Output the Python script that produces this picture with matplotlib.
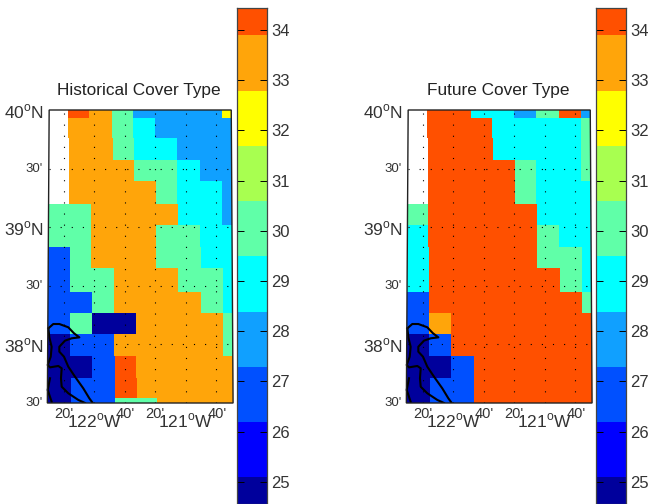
import numpy as np
import matplotlib
matplotlib.use('Agg')
import matplotlib.pyplot as plt
from matplotlib.colors import ListedColormap, BoundaryNorm
from matplotlib.patches import Polygon

plt.rcParams['font.family'] = ['Liberation Sans', 'DejaVu Sans']
plt.rcParams['mathtext.fontset'] = 'custom'
plt.rcParams['mathtext.rm'] = 'Liberation Sans'

n = np.nan
# cover type per grid cell, north to south, west to east
hist = [
    [n, 34, 33, 30, 28, 28, 28, 28, 32],
    [n, 33, 33, 30, 29, 28, 28, 28, 28],
    [n, 33, 33, 30, 29, 29, 28, 28, 28],
    [n, 33, 33, 33, 30, 30, 29, 28, 28],
    [n, 33, 33, 33, 33, 30, 29, 29, 28],
    [30, 30, 33, 33, 33, 33, 29, 29, 28],
    [30, 30, 33, 33, 33, 30, 30, 29, 29],
    [27, 30, 33, 33, 33, 30, 30, 29, 29],
    [27, 30, 30, 33, 33, 33, 30, 30, 29],
    [27, 27, 30, 33, 33, 33, 33, 30, 29],
    [27, 30, 25, 25, 33, 33, 33, 33, 30],
    [25, 27, 27, 33, 33, 33, 33, 33, 30],
    [25, 25, 27, 34, 33, 33, 33, 33, 33],
    [25, 27, 27, 34, 33, 33, 33, 33, 33],
    [25, 27, 27, 30, 30, 33, 33, 33, 33],
]
future = [
    [n, 34, 34, 29, 29, 28, 30, 34, 28],
    [n, 34, 34, 34, 29, 29, 29, 29, 30],
    [n, 34, 34, 34, 29, 29, 29, 29, 30],
    [n, 34, 34, 34, 34, 30, 29, 29, 30],
    [n, 34, 34, 34, 34, 30, 29, 29, 29],
    [30, 34, 34, 34, 34, 34, 29, 29, 29],
    [29, 34, 34, 34, 34, 34, 30, 29, 29],
    [29, 34, 34, 34, 34, 34, 30, 30, 29],
    [29, 34, 34, 34, 34, 34, 34, 30, 29],
    [27, 34, 34, 34, 34, 34, 34, 34, 30],
    [27, 33, 34, 34, 34, 34, 34, 34, 34],
    [25, 27, 34, 34, 34, 34, 34, 34, 34],
    [25, 25, 27, 34, 34, 34, 34, 34, 34],
    [25, 27, 27, 34, 34, 34, 34, 34, 34],
    [25, 27, 27, 34, 34, 34, 34, 34, 34],
]
titles = ['Historical Cover Type', 'Future Cover Type']

# grid edges, the model grid leans a little against the map
lon_north = [-122.49, -122.28, -122.05, -121.80, -121.57, -121.33, -121.09, -120.84, -120.60, -120.50]
lon_south = [-122.51, -122.25, -122.01, -121.77, -121.53, -121.31, -121.08, -120.83, -120.59, -120.48]
lat_edges = [40.0, 39.93, 39.76, 39.57, 39.39, 39.20, 39.02, 38.83, 38.65, 38.45,
             38.27, 38.09, 37.90, 37.71, 37.54, 37.5]

# coastline
coast1_lon = [-122.499, -122.445, -122.379, -122.281, -122.219, -122.160, -122.244, -122.317,
              -122.379, -122.379, -122.328, -122.281, -122.208, -122.117, -122.051, -122.014]
coast1_lat = [38.137, 38.174, 38.174, 38.146, 38.095, 38.060, 38.052, 38.032,
              37.980, 37.938, 37.895, 37.810, 37.725, 37.625, 37.540, 37.500]
coast2_lon = [-122.499, -122.488, -122.463, -122.473, -122.506, -122.481, -122.390, -122.353,
              -122.361, -122.353, -122.281, -122.171, -122.098]
coast2_lat = [38.137, 38.060, 37.980, 37.895, 37.824, 37.804, 37.816, 37.796,
              37.711, 37.639, 37.583, 37.526, 37.500]
coast3_lon = [-122.481, -122.506, -122.463]
coast3_lat = [37.711, 37.611, 37.511]

grid_lons = [-122 - 1 / 3, -122, -122 + 1 / 3, -121 - 1 / 3, -121, -121 + 1 / 3]
grid_lats = [39.5, 39.0, 38.5, 38.0]

bounds = [24, 25.1, 26.19, 27.29, 28.38, 29.5, 30.59, 31.69, 32.78, 33.9, 35]
colors = ['#00009c', '#0000ff', '#0050ff', '#10a0ff', '#00ffff',
          '#60ffa8', '#a8ff50', '#ffff00', '#ffa50a', '#ff5000']
cb_ticks = [25, 26, 27, 28, 29, 30, 31, 32, 33, 34]

cmap = ListedColormap(colors)
norm = BoundaryNorm(bounds, cmap.N)

W, H = 650, 504
fig = plt.figure(figsize=(W / 100, H / 100), dpi=100)


def px_axes(x0, y0, x1, y1):
    return fig.add_axes([x0 / W, 1 - y1 / H, (x1 - x0) / W, (y1 - y0) / H])


lat_arr = np.array(lat_edges)
frac = ((40 - lat_arr) / 2.5)[:, None]
X = np.array(lon_north)[None, :] * (1 - frac) + np.array(lon_south)[None, :] * frac
Y = np.repeat(lat_arr[:, None], len(lon_north), axis=1)

for shift, data, title in zip([0, 359], [hist, future], titles):
    ax = px_axes(45 + shift, 110, 235 + shift, 403)
    ax.set_xlim(-122 + (45 - 94) / 91.5, -122 + (235 - 94) / 91.5)
    ax.set_ylim(37.5, 40)
    ax.axis('off')
    ax.pcolormesh(X, Y, np.ma.masked_invalid(data), cmap=cmap, norm=norm, edgecolors='none',
                  antialiased=False, zorder=1)

    for lon in grid_lons:
        ax.plot([lon, lon], [37.5, 40], color='k', lw=0.8, ls=(0, (1, 9)), zorder=2)
    for lat in grid_lats:
        ax.plot([lon_north[0], lon_north[-1]], [lat, lat], color='k', lw=0.8, ls=(0, (1, 9)), zorder=2)

    for cx, cy in [(coast1_lon, coast1_lat), (coast2_lon, coast2_lat), (coast3_lon, coast3_lat)]:
        ax.plot(cx, cy, color='k', lw=1.5, zorder=3, solid_joinstyle='round')

    corners = [(lon_north[0], 40), (lon_north[-1], 40), (lon_south[-1], 37.5), (lon_south[0], 37.5)]
    ax.add_patch(Polygon(corners, closed=True, fill=False, ec='#222222', lw=1.0, zorder=4, clip_on=False))

    txt = '#333333'
    # latitude labels
    for lat, lab in [(40, '40$^{\\rm o}$N'), (39, '39$^{\\rm o}$N'), (38, '38$^{\\rm o}$N')]:
        ax.annotate(lab, (lon_north[0], lat), xytext=(-5, -2), textcoords='offset pixels',
                    ha='right', va='center', fontsize=12.5, color=txt, annotation_clip=False)
    for lat in [39.5, 38.5, 37.5]:
        ax.annotate("30'", (lon_north[0], lat), xytext=(-6, 0), textcoords='offset pixels',
                    ha='right', va='center', fontsize=9.5, color=txt, annotation_clip=False)
    # longitude labels
    for lon in [grid_lons[0], grid_lons[3]]:
        ax.annotate("20'", (lon, 37.5), xytext=(0, -11), textcoords='offset pixels',
                    ha='center', va='center', fontsize=10.5, color=txt, annotation_clip=False)
    for lon in [grid_lons[2], grid_lons[5]]:
        ax.annotate("40'", (lon, 37.5), xytext=(1, -11), textcoords='offset pixels',
                    ha='center', va='center', fontsize=10.5, color=txt, annotation_clip=False)
    for lon, lab in [(-122, '122$^{\\rm o}$W'), (-121, '121$^{\\rm o}$W')]:
        ax.annotate(lab, (lon, 37.5), xytext=(0, -18), textcoords='offset pixels',
                    ha='center', va='center', fontsize=12.5, color=txt, annotation_clip=False)

    fig.text((140 + shift - 1) / W, 1 - 90 / H, title, ha='center', va='center', fontsize=12.4, color='#222222')

    # colorbar runs past the bottom of the figure
    cax = px_axes(237 + shift, 8, 267 + shift, 504)
    mids = np.array(bounds)[:-1] + 0.01
    cax.pcolormesh([0, 1], bounds, mids[:, None], cmap=cmap, norm=norm, antialiased=False)
    cax.set_ylim(34 - (504 - 30) / 50.2, 34 + (30 - 8) / 50.2)
    cax.set_xticks([])
    cax.set_yticks(cb_ticks)
    cax.yaxis.tick_right()
    cax.tick_params(axis='y', direction='in', left=True, right=True, length=5, width=0.7,
                    labelsize=12, labelcolor=txt, pad=3)
    for sp in cax.spines.values():
        sp.set_color('#444444')
        sp.set_linewidth(0.9)

fig.savefig('out.png', dpi=100)
